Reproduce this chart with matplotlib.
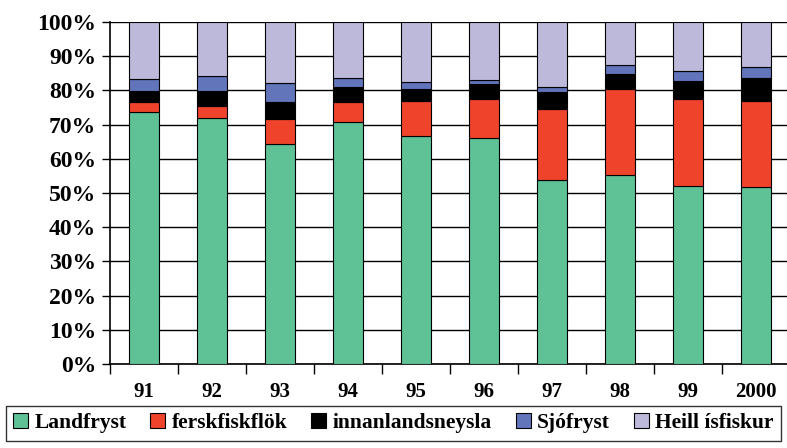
import matplotlib
matplotlib.use("Agg")
import matplotlib.pyplot as plt
import numpy as np

# shares (%) per year
years = ["91", "92", "93", "94", "95", "96", "97", "98", "99", "2000"]
landfryst = [73.8, 71.8, 64.4, 70.7, 66.7, 66.2, 53.8, 55.3, 52.1, 51.8]
ferskfiskflok = [2.7, 3.7, 7.1, 5.8, 10.3, 11.4, 20.8, 25.0, 25.5, 25.2]
innanlands = [3.3, 4.3, 5.2, 4.4, 3.5, 4.2, 5.0, 4.6, 5.1, 6.5]
sjofryst = [3.6, 4.4, 5.6, 2.8, 2.1, 1.3, 1.5, 2.6, 2.9, 3.4]
heill = [16.6, 15.8, 17.7, 16.3, 17.4, 16.9, 18.9, 12.5, 14.4, 13.1]

series = [
    ("Landfryst", landfryst, "#5fc196"),
    ("ferskfiskflök", ferskfiskflok, "#ef432b"),
    ("innanlandsneysla", innanlands, "#000000"),
    ("Sjófryst", sjofryst, "#6275ba"),
    ("Heill ísfiskur", heill, "#bdb9da"),
]

plt.rcParams["font.family"] = "Liberation Serif"
plt.rcParams["font.weight"] = "bold"

fig = plt.figure(figsize=(7.87, 4.48), dpi=100)
ax = fig.add_axes([110 / 787, 84 / 448, 680 / 787, 342 / 448])

x = np.arange(len(years))
bottom = np.zeros(len(years))
handles = []
for name, vals, col in series:
    b = ax.bar(x, vals, 0.44, bottom=bottom, color=col, edgecolor="black",
               linewidth=0.8, label=name, zorder=3)
    handles.append(b)
    bottom += np.array(vals)

ax.set_xlim(-0.5, len(years) - 0.5)
ax.set_ylim(0, 100)
ax.set_yticks(np.arange(0, 101, 10))
ax.set_yticklabels([f"{v}%" for v in range(0, 101, 10)], fontsize=17, fontweight="bold")
ax.yaxis.grid(True, color="black", linewidth=1.0, zorder=0)
ax.set_axisbelow(True)

ax.set_xticks(x)
ax.set_xticklabels(years, fontsize=15, fontweight="bold")
ax.tick_params(axis="x", which="major", length=0, pad=13)
ax.set_xticks(np.arange(-0.5, len(years), 1.0), minor=True)
ax.tick_params(axis="x", which="minor", length=7, width=1, direction="out")
ax.tick_params(axis="y", length=6, width=1, direction="out", pad=4)

for s in ["top", "right"]:
    ax.spines[s].set_visible(False)
ax.spines["left"].set_linewidth(1.2)
ax.spines["bottom"].set_linewidth(1.2)

leg = fig.legend(handles=handles, loc="lower center", ncol=5,
                 bbox_to_anchor=(0.5, -0.008), frameon=True, fancybox=False,
                 edgecolor="black", handlelength=0.7,
                 handleheight=0.7, handletextpad=0.3, columnspacing=1.1,
                 borderpad=0.35, prop={"size": 15.5, "weight": "bold"})
leg.get_frame().set_linewidth(1.0)

fig.savefig("out.png", dpi=100)
